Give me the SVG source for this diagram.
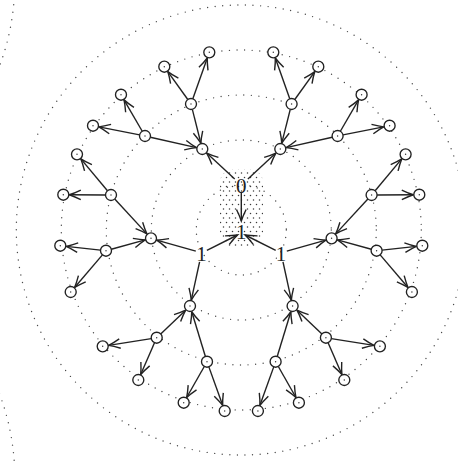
<svg xmlns="http://www.w3.org/2000/svg" width="458" height="461" viewBox="0 0 458 461">
<style>
.ring{fill:none;stroke:#4a4a4a;stroke-width:1.4;stroke-linecap:round;stroke-dasharray:0 7.6}
.e{stroke:#222;stroke-width:1.4;fill:none;marker-end:url(#ah)}
.n{fill:#fff;stroke:#222;stroke-width:1.35}
.c{fill:#333}
.lbl{font-family:"Liberation Serif","DejaVu Serif",serif;font-size:21px;fill:#222;text-anchor:middle}
</style>
<defs>
<marker id="ah" markerUnits="userSpaceOnUse" markerWidth="14" markerHeight="12" viewBox="-13 -6 14 12" refX="0" refY="0" orient="auto" overflow="visible">
<path d="M-11.5,-4.8 Q-4.5,-1.4 0,0 Q-4.5,1.4 -11.5,4.8" fill="none" stroke="#222" stroke-width="1.4"/>
</marker>
<pattern id="stip" patternUnits="userSpaceOnUse" width="6" height="9">
<circle cx="1.5" cy="2" r="0.75" fill="#3a3a3a"/>
<circle cx="4.5" cy="6.5" r="0.75" fill="#3a3a3a"/>
</pattern>
</defs>
<rect width="458" height="461" fill="#fff"/>
<g id="rings">
<rect x="220" y="169" width="43" height="78" rx="14" fill="url(#stip)"/>
<circle class="ring" cx="241.3" cy="230" r="45"/>
<circle class="ring" cx="241.3" cy="230" r="90"/>
<circle class="ring" cx="241.3" cy="230" r="135"/>
<circle class="ring" cx="241.3" cy="230" r="180"/>
<circle class="ring" cx="241.3" cy="230" r="225"/>
<circle class="ring" cx="-224" cy="-18" r="238.8"/>
<circle class="ring" cx="-224" cy="478" r="238.8"/>
</g>
<g id="connectors">
<path class="e" d="M192.84,98.82L207.3,57.96"/>
<path class="e" d="M187.8,99.53L167.79,71.58"/>
<path class="e" d="M192.34,109.33L200.84,143.18"/>
<path class="e" d="M142.24,131.24L124.01,99.89"/>
<path class="e" d="M139.61,134.93L98.89,126.87"/>
<path class="e" d="M150.36,137.22L196.45,147.67"/>
<path class="e" d="M107.47,190.78L80.85,158.91"/>
<path class="e" d="M105.5,194.97L69.3,194.74"/>
<path class="e" d="M114.73,199.04L146.93,233.89"/>
<path class="e" d="M100.53,250.1L66.26,246.35"/>
<path class="e" d="M102.43,254.88L74.6,287.44"/>
<path class="e" d="M111.3,249.24L145.22,239.89"/>
<path class="e" d="M151.27,338.57L108.63,345.36"/>
<path class="e" d="M154.51,342.74L140.69,374.5"/>
<path class="e" d="M160.68,333.91L185.65,310.14"/>
<path class="e" d="M204.28,366.48L186.66,397.48"/>
<path class="e" d="M208.86,366.88L222.67,405.35"/>
<path class="e" d="M205.39,356.44L191.75,311.74"/>
<path class="e" d="M195.8,251.2L156.7,240.1"/>
<path class="e" d="M199.6,261.8L191.27,300.14"/>
<path class="e" d="M206.9,250.3L237.5,235"/>
<path class="e" d="M234.7,178.9L206.7,153.1"/>
<path class="e" d="M241.3,193L241.3,221"/>
<path class="e" d="M289.76,98.82L275.3,57.96"/>
<path class="e" d="M294.8,99.53L314.81,71.58"/>
<path class="e" d="M290.26,109.33L281.76,143.18"/>
<path class="e" d="M340.36,131.24L358.59,99.89"/>
<path class="e" d="M342.99,134.93L383.71,126.87"/>
<path class="e" d="M332.24,137.22L286.15,147.67"/>
<path class="e" d="M375.13,190.78L401.75,158.91"/>
<path class="e" d="M377.1,194.97L413.3,194.74"/>
<path class="e" d="M367.87,199.04L335.67,233.89"/>
<path class="e" d="M382.07,250.1L416.34,246.35"/>
<path class="e" d="M380.17,254.88L408,287.44"/>
<path class="e" d="M371.3,249.24L337.38,239.89"/>
<path class="e" d="M331.33,338.57L373.97,345.36"/>
<path class="e" d="M328.09,342.74L341.91,374.5"/>
<path class="e" d="M321.92,333.91L296.95,310.14"/>
<path class="e" d="M278.32,366.48L295.94,397.48"/>
<path class="e" d="M273.74,366.88L259.93,405.35"/>
<path class="e" d="M277.21,356.44L290.85,311.74"/>
<path class="e" d="M286.8,251.2L325.9,240.1"/>
<path class="e" d="M283,261.8L291.33,300.14"/>
<path class="e" d="M275.7,250.3L245.1,235"/>
<path class="e" d="M247.9,178.9L275.9,153.1"/>
</g>
<g id="n-root"><text class="lbl" x="241.3" y="238.5">1</text></g>
<g id="n-zero"><text class="lbl" x="241.3" y="192.5">0</text></g>
<g id="n-oneL"><text class="lbl" x="201.5" y="261">1</text></g>
<g id="n-oneR"><text class="lbl" x="281.1" y="261">1</text></g>
<g id="n-A"><circle class="n" cx="202.3" cy="149" r="5.5"/><circle class="c" cx="202.3" cy="149" r="0.7"/></g>
<g id="n-B"><circle class="n" cx="151" cy="238.3" r="5.5"/><circle class="c" cx="151" cy="238.3" r="0.7"/></g>
<g id="n-C"><circle class="n" cx="190" cy="306" r="5.5"/><circle class="c" cx="190" cy="306" r="0.7"/></g>
<g id="n-D"><circle class="n" cx="191" cy="104" r="5.5"/><circle class="c" cx="191" cy="104" r="0.7"/></g>
<g id="n-E"><circle class="n" cx="145" cy="136" r="5.5"/><circle class="c" cx="145" cy="136" r="0.7"/></g>
<g id="n-F"><circle class="n" cx="111" cy="195" r="5.5"/><circle class="c" cx="111" cy="195" r="0.7"/></g>
<g id="n-G"><circle class="n" cx="106" cy="250.7" r="5.5"/><circle class="c" cx="106" cy="250.7" r="0.7"/></g>
<g id="n-H"><circle class="n" cx="156.7" cy="337.7" r="5.5"/><circle class="c" cx="156.7" cy="337.7" r="0.7"/></g>
<g id="n-I"><circle class="n" cx="207" cy="361.7" r="5.5"/><circle class="c" cx="207" cy="361.7" r="0.7"/></g>
<g id="n-D1"><circle class="n" cx="209.3" cy="52.3" r="5.5"/><circle class="c" cx="209.3" cy="52.3" r="0.7"/></g>
<g id="n-D2"><circle class="n" cx="164.3" cy="66.7" r="5.5"/><circle class="c" cx="164.3" cy="66.7" r="0.7"/></g>
<g id="n-E1"><circle class="n" cx="121" cy="94.7" r="5.5"/><circle class="c" cx="121" cy="94.7" r="0.7"/></g>
<g id="n-E2"><circle class="n" cx="93" cy="125.7" r="5.5"/><circle class="c" cx="93" cy="125.7" r="0.7"/></g>
<g id="n-F1"><circle class="n" cx="77" cy="154.3" r="5.5"/><circle class="c" cx="77" cy="154.3" r="0.7"/></g>
<g id="n-F2"><circle class="n" cx="63.3" cy="194.7" r="5.5"/><circle class="c" cx="63.3" cy="194.7" r="0.7"/></g>
<g id="n-G1"><circle class="n" cx="60.3" cy="245.7" r="5.5"/><circle class="c" cx="60.3" cy="245.7" r="0.7"/></g>
<g id="n-G2"><circle class="n" cx="70.7" cy="292" r="5.5"/><circle class="c" cx="70.7" cy="292" r="0.7"/></g>
<g id="n-H1"><circle class="n" cx="102.7" cy="346.3" r="5.5"/><circle class="c" cx="102.7" cy="346.3" r="0.7"/></g>
<g id="n-H2"><circle class="n" cx="138.3" cy="380" r="5.5"/><circle class="c" cx="138.3" cy="380" r="0.7"/></g>
<g id="n-I1"><circle class="n" cx="183.7" cy="402.7" r="5.5"/><circle class="c" cx="183.7" cy="402.7" r="0.7"/></g>
<g id="n-I2"><circle class="n" cx="224.7" cy="411" r="5.5"/><circle class="c" cx="224.7" cy="411" r="0.7"/></g>
<g id="n-Ar"><circle class="n" cx="280.3" cy="149" r="5.5"/><circle class="c" cx="280.3" cy="149" r="0.7"/></g>
<g id="n-Br"><circle class="n" cx="331.6" cy="238.3" r="5.5"/><circle class="c" cx="331.6" cy="238.3" r="0.7"/></g>
<g id="n-Cr"><circle class="n" cx="292.6" cy="306" r="5.5"/><circle class="c" cx="292.6" cy="306" r="0.7"/></g>
<g id="n-Dr"><circle class="n" cx="291.6" cy="104" r="5.5"/><circle class="c" cx="291.6" cy="104" r="0.7"/></g>
<g id="n-Er"><circle class="n" cx="337.6" cy="136" r="5.5"/><circle class="c" cx="337.6" cy="136" r="0.7"/></g>
<g id="n-Fr"><circle class="n" cx="371.6" cy="195" r="5.5"/><circle class="c" cx="371.6" cy="195" r="0.7"/></g>
<g id="n-Gr"><circle class="n" cx="376.6" cy="250.7" r="5.5"/><circle class="c" cx="376.6" cy="250.7" r="0.7"/></g>
<g id="n-Hr"><circle class="n" cx="325.9" cy="337.7" r="5.5"/><circle class="c" cx="325.9" cy="337.7" r="0.7"/></g>
<g id="n-Ir"><circle class="n" cx="275.6" cy="361.7" r="5.5"/><circle class="c" cx="275.6" cy="361.7" r="0.7"/></g>
<g id="n-D1r"><circle class="n" cx="273.3" cy="52.3" r="5.5"/><circle class="c" cx="273.3" cy="52.3" r="0.7"/></g>
<g id="n-D2r"><circle class="n" cx="318.3" cy="66.7" r="5.5"/><circle class="c" cx="318.3" cy="66.7" r="0.7"/></g>
<g id="n-E1r"><circle class="n" cx="361.6" cy="94.7" r="5.5"/><circle class="c" cx="361.6" cy="94.7" r="0.7"/></g>
<g id="n-E2r"><circle class="n" cx="389.6" cy="125.7" r="5.5"/><circle class="c" cx="389.6" cy="125.7" r="0.7"/></g>
<g id="n-F1r"><circle class="n" cx="405.6" cy="154.3" r="5.5"/><circle class="c" cx="405.6" cy="154.3" r="0.7"/></g>
<g id="n-F2r"><circle class="n" cx="419.3" cy="194.7" r="5.5"/><circle class="c" cx="419.3" cy="194.7" r="0.7"/></g>
<g id="n-G1r"><circle class="n" cx="422.3" cy="245.7" r="5.5"/><circle class="c" cx="422.3" cy="245.7" r="0.7"/></g>
<g id="n-G2r"><circle class="n" cx="411.9" cy="292" r="5.5"/><circle class="c" cx="411.9" cy="292" r="0.7"/></g>
<g id="n-H1r"><circle class="n" cx="379.9" cy="346.3" r="5.5"/><circle class="c" cx="379.9" cy="346.3" r="0.7"/></g>
<g id="n-H2r"><circle class="n" cx="344.3" cy="380" r="5.5"/><circle class="c" cx="344.3" cy="380" r="0.7"/></g>
<g id="n-I1r"><circle class="n" cx="298.9" cy="402.7" r="5.5"/><circle class="c" cx="298.9" cy="402.7" r="0.7"/></g>
<g id="n-I2r"><circle class="n" cx="257.9" cy="411" r="5.5"/><circle class="c" cx="257.9" cy="411" r="0.7"/></g>
</svg>
